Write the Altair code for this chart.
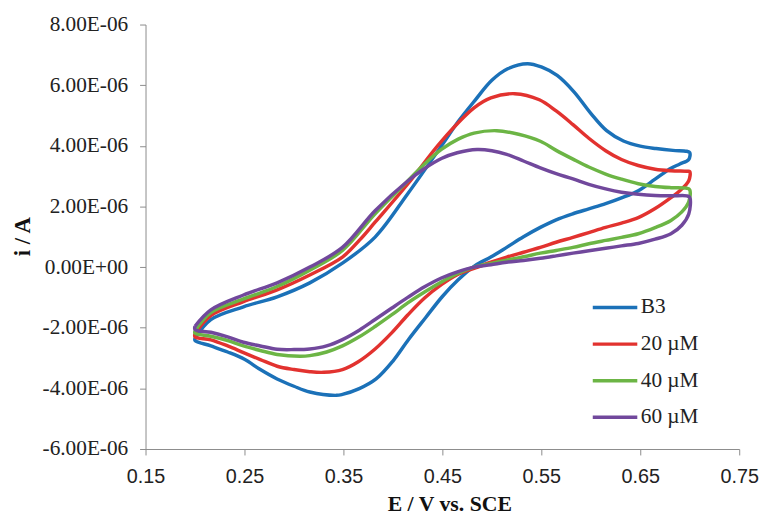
import altair as alt
import pandas as pd

series_names = ["B3", "20 µM", "40 µM", "60 µM"]
series_colors = ["#1b71b8", "#e2322f", "#6cb545", "#71489c"]

# ---- B3 ----
b3_fwd_x = [0.200, 0.216, 0.249, 0.283, 0.316, 0.349, 0.382, 0.415, 0.450, 0.466, 0.483, 0.500, 0.516,
            0.536, 0.550, 0.566, 0.583, 0.600, 0.616, 0.633, 0.650, 0.666, 0.683, 0.697, 0.700]
b3_fwd_i = [-2.35, -1.73, -1.31, -0.98, -0.52, 0.13, 0.99, 2.42, 4.04, 4.80, 5.50, 6.16, 6.54,
            6.71, 6.60, 6.32, 5.78, 5.07, 4.50, 4.16, 3.99, 3.91, 3.85, 3.82, 3.78]
b3_rev_x = [0.699, 0.690, 0.681, 0.665, 0.648, 0.631, 0.615, 0.598, 0.582, 0.565, 0.549, 0.532, 0.515,
            0.499, 0.483, 0.466, 0.450, 0.433, 0.416, 0.400, 0.383, 0.366, 0.349, 0.343, 0.316, 0.300,
            0.283, 0.266, 0.250, 0.233, 0.216, 0.200]
b3_rev_i = [3.55, 3.40, 3.26, 2.90, 2.52, 2.28, 2.09, 1.92, 1.76, 1.56, 1.31, 1.00, 0.65,
            0.33, 0.05, -0.42, -0.97, -1.67, -2.38, -3.10, -3.69, -4.01, -4.20, -4.23, -4.12, -3.93,
            -3.69, -3.38, -3.04, -2.80, -2.60, -2.42]

# ---- 20 µM ----
r20_fwd_x = [0.200, 0.216, 0.249, 0.283, 0.316, 0.349, 0.366, 0.382, 0.415, 0.449, 0.482, 0.499, 0.523,
             0.548, 0.565, 0.582, 0.598, 0.615, 0.631, 0.648, 0.665, 0.681, 0.697, 0.700]
r20_fwd_i = [-2.20, -1.60, -1.14, -0.75, -0.26, 0.33, 0.88, 1.48, 2.74, 4.15, 5.25, 5.58, 5.72,
             5.52, 5.15, 4.70, 4.25, 3.84, 3.55, 3.35, 3.23, 3.18, 3.16, 3.15]
r20_rev_x = [0.699, 0.690, 0.681, 0.665, 0.648, 0.631, 0.615, 0.598, 0.582, 0.565, 0.549, 0.532, 0.515,
             0.499, 0.482, 0.465, 0.449, 0.432, 0.415, 0.399, 0.382, 0.365, 0.349, 0.330, 0.316, 0.300,
             0.283, 0.266, 0.249, 0.233, 0.216, 0.200]
r20_rev_i = [2.85, 2.52, 2.29, 1.93, 1.63, 1.45, 1.31, 1.14, 0.98, 0.82, 0.65, 0.49, 0.33,
             0.16, -0.04, -0.25, -0.58, -1.02, -1.58, -2.16, -2.70, -3.12, -3.38, -3.47, -3.45, -3.38,
             -3.27, -3.05, -2.82, -2.60, -2.40, -2.30]

# ---- 40 µM ----
g40_fwd_x = [0.200, 0.216, 0.249, 0.283, 0.316, 0.349, 0.382, 0.415, 0.432, 0.449, 0.466, 0.482, 0.505,
             0.527, 0.549, 0.565, 0.582, 0.598, 0.615, 0.631, 0.648, 0.665, 0.681, 0.697, 0.700]
g40_fwd_i = [-2.10, -1.50, -1.05, -0.64, -0.10, 0.55, 1.76, 2.84, 3.40, 3.88, 4.22, 4.42, 4.50,
             4.38, 4.15, 3.85, 3.56, 3.30, 3.07, 2.90, 2.75, 2.66, 2.62, 2.60, 2.55]
g40_rev_x = [0.699, 0.692, 0.681, 0.665, 0.648, 0.631, 0.615, 0.598, 0.582, 0.565, 0.549, 0.532, 0.515,
             0.499, 0.482, 0.466, 0.449, 0.432, 0.415, 0.399, 0.382, 0.366, 0.349, 0.333, 0.316, 0.306,
             0.283, 0.266, 0.249, 0.233, 0.216, 0.200]
g40_rev_i = [2.15, 1.82, 1.54, 1.30, 1.10, 0.98, 0.88, 0.77, 0.65, 0.55, 0.46, 0.34, 0.23,
             0.12, 0.00, -0.20, -0.49, -0.82, -1.18, -1.57, -1.96, -2.30, -2.60, -2.80, -2.92, -2.94,
             -2.88, -2.75, -2.60, -2.42, -2.28, -2.18]

# ---- 60 µM ----
p60_fwd_x = [0.200, 0.216, 0.249, 0.283, 0.316, 0.349, 0.382, 0.415, 0.432, 0.449, 0.465, 0.485, 0.500,
             0.515, 0.532, 0.549, 0.565, 0.582, 0.598, 0.615, 0.631, 0.648, 0.665, 0.681, 0.697, 0.700]
p60_fwd_i = [-1.95, -1.41, -0.92, -0.52, 0.00, 0.65, 1.86, 2.84, 3.25, 3.58, 3.77, 3.88, 3.84,
             3.72, 3.50, 3.27, 3.08, 2.91, 2.73, 2.58, 2.47, 2.40, 2.36, 2.35, 2.35, 2.30]
p60_rev_x = [0.699, 0.692, 0.681, 0.665, 0.648, 0.631, 0.615, 0.598, 0.582, 0.565, 0.549, 0.532, 0.515,
             0.499, 0.482, 0.466, 0.449, 0.432, 0.415, 0.399, 0.382, 0.366, 0.349, 0.333, 0.316, 0.300,
             0.283, 0.266, 0.249, 0.233, 0.216, 0.200]
p60_rev_i = [1.75, 1.38, 1.10, 0.92, 0.78, 0.70, 0.62, 0.54, 0.46, 0.37, 0.29, 0.22, 0.16,
             0.08, 0.00, -0.15, -0.36, -0.65, -1.00, -1.35, -1.73, -2.08, -2.39, -2.60, -2.70, -2.72,
             -2.71, -2.60, -2.48, -2.30, -2.15, -2.06]

x_ticks = [0.15, 0.25, 0.35, 0.45, 0.55, 0.65, 0.75]
y_ticks = [-6e-6, -4e-6, -2e-6, 0.0, 2e-6, 4e-6, 6e-6, 8e-6]

curves = [
    (b3_fwd_x, b3_fwd_i, b3_rev_x, b3_rev_i),
    (r20_fwd_x, r20_fwd_i, r20_rev_x, r20_rev_i),
    (g40_fwd_x, g40_fwd_i, g40_rev_x, g40_rev_i),
    (p60_fwd_x, p60_fwd_i, p60_rev_x, p60_rev_i),
]

rows = []
for name, (fx, fi, rx, ri) in zip(series_names, curves):
    xs = fx + rx + [fx[0]]
    ys = fi + ri + [fi[0]]
    for k, (xv, yv) in enumerate(zip(xs, ys)):
        rows.append({"series": name, "E": xv, "i": yv * 1e-6, "idx": k})
df = pd.DataFrame(rows)

serif = "Liberation Serif"
sans = "Liberation Sans"

y_label_expr = ("(datum.value < 0 ? '-' : '') + "
                "replace(replace(upper(format(abs(datum.value), '.2e')), 'E-', 'E-0'), 'E+', 'E+0')")

chart = alt.Chart(df).mark_line(strokeWidth=3.5, interpolate="catmull-rom").encode(
    x=alt.X("E:Q",
            scale=alt.Scale(domain=[0.15, 0.75], nice=False, zero=False),
            axis=alt.Axis(values=x_ticks, format=".2f", title="E / V vs. SCE",
                          grid=False, domainColor="#8c8c8c", tickColor="#8c8c8c",
                          tickSize=6, labelFont=sans, labelFontSize=20, labelColor="#222222",
                          labelPadding=12, titleFont=serif, titleFontSize=22, titleFontWeight="bold",
                          titleColor="#111111", titleX=307, titleY=62, titleBaseline="alphabetic",
                          titleAnchor="middle", titleAlign="center", labelFlush=False)),
    y=alt.Y("i:Q",
            scale=alt.Scale(domain=[-6e-6, 8e-6], nice=False, zero=False),
            axis=alt.Axis(values=y_ticks, labelExpr=y_label_expr, title="i / A",
                          grid=False, domainColor="#8c8c8c", tickColor="#8c8c8c",
                          tickSize=6, labelFont=serif, labelFontSize=21.5, labelColor="#222222",
                          labelPadding=12, titleFont=serif, titleFontSize=23, titleFontWeight="bold",
                          titleColor="#111111", titleX=-124, titleY=214, titleBaseline="middle",
                          titleAlign="center", labelFlush=False)),
    color=alt.Color("series:N",
                    scale=alt.Scale(domain=series_names, range=series_colors),
                    legend=alt.Legend(title=None, orient="none", legendX=457.5, legendY=269,
                                      symbolType="M-1.5,0H1.5", symbolSize=900, symbolStrokeWidth=3.5,
                                      labelFont=serif, labelFontSize=21.5, labelColor="#222222",
                                      labelOffset=9, rowPadding=9, padding=0)),
    detail="series:N",
    order=alt.Order("idx:Q"),
).properties(
    width=600, height=429,
    autosize=alt.AutoSizeParams(type="none"),
    padding={"left": 139, "top": 14, "right": 20, "bottom": 67},
    background="white",
).configure_view(stroke=None)

chart.save("out.html", embed_options={"renderer": "svg", "actions": False})
